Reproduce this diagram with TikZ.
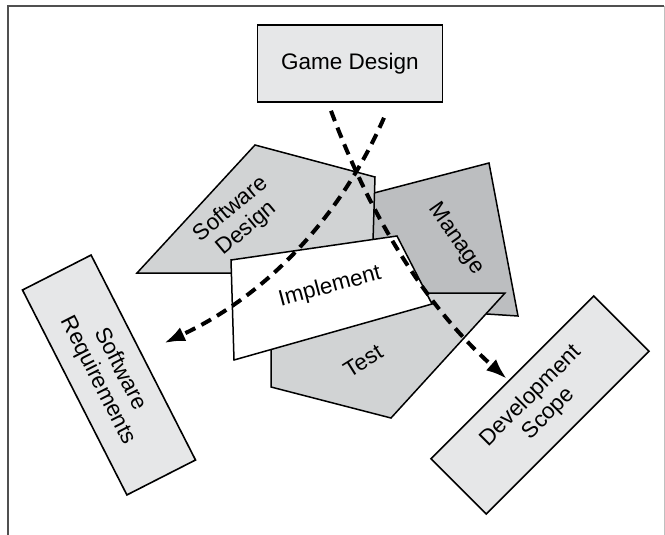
\documentclass[tikz,border=0pt]{standalone}
\usepackage{fontspec}
\setmainfont{Liberation Sans}
\usetikzlibrary{arrows.meta, positioning, calc}

\definecolor{boxgray}{HTML}{E6E7E8}
\definecolor{lightpiece}{HTML}{D1D3D4}
\definecolor{darkpiece}{HTML}{BCBEC0}
\definecolor{framegray}{HTML}{505050}

\begin{document}
\begin{tikzpicture}[
    x=1pt, y=-1pt, % image coordinates, y grows downwards
    >=Latex, % Set default arrow tip style
    box/.style={draw=black, line width=1.6pt, fill=boxgray, align=center,
        font=\fontsize{22.5}{25}\selectfont, inner sep=0pt}, % Outer boxes
    piece/.style={draw=black, line width=1.5pt, line join=miter}, % Puzzle pieces
    tag/.style={align=center, font=\fontsize{22.5}{25}\selectfont}, % Piece texts
    flow/.style={-{Latex[length=21pt, width=15pt]}, line width=4pt,
        dash pattern=on 11pt off 7pt} % Dashed arrows
]
    \useasboundingbox (0,0) rectangle (665,535);

    % Frame
    \draw[framegray, line width=2pt] (8,535) -- (8,6) -- (664,6);
    \draw[black!25, line width=1pt] (664,6) -- (664,535);

    % Outer boxes
    \node[box, minimum width=185pt, minimum height=77pt] (gd) at (350,63.5) {Game Design};
    \node[box, minimum width=230pt, minimum height=77pt, rotate=-63] (sr) at (109,375) {Software\\Requirements};
    \node[box, minimum width=230pt, minimum height=78pt, rotate=45] (ds) at (540,405) {Development\\Scope};

    % Pieces, back to front
    \draw[piece, fill=darkpiece] (374,193) -- (489,163) -- (518,316) -- (440,311) -- (370,300) -- cycle;
    \draw[piece, fill=lightpiece] (271,293) -- (505,293) -- (391,418) -- (271,387) -- cycle;
    \draw[piece, fill=lightpiece] (137,273) -- (255,145) -- (375,177) -- (372,273) -- cycle;
    \draw[piece, fill=white] (231,260) -- (397,236) -- (432,304) -- (234,360) -- cycle;

    % Piece labels
    \node[tag, rotate=40] (sdtext) at (239,219) {Software\\Design};
    \node[tag, rotate=-55] (mgtext) at (456,239) {Manage};
    \node[tag, rotate=15] (imtext) at (330,287) {Implement};
    \node[tag, rotate=32] (tstext) at (363,361) {Test};

    % Dashed arrows from Game Design
    \draw[flow] ($(gd.south)+(-19,8)$) .. controls (369,213) and (424,305) .. ($(ds.north)+(-5,2)$);
    \draw[flow] ($(gd.south)+(34,15)$) .. controls (339,220) and (265,296) .. ($(sr.north)+(20,-14)$);

\end{tikzpicture}
\end{document}
